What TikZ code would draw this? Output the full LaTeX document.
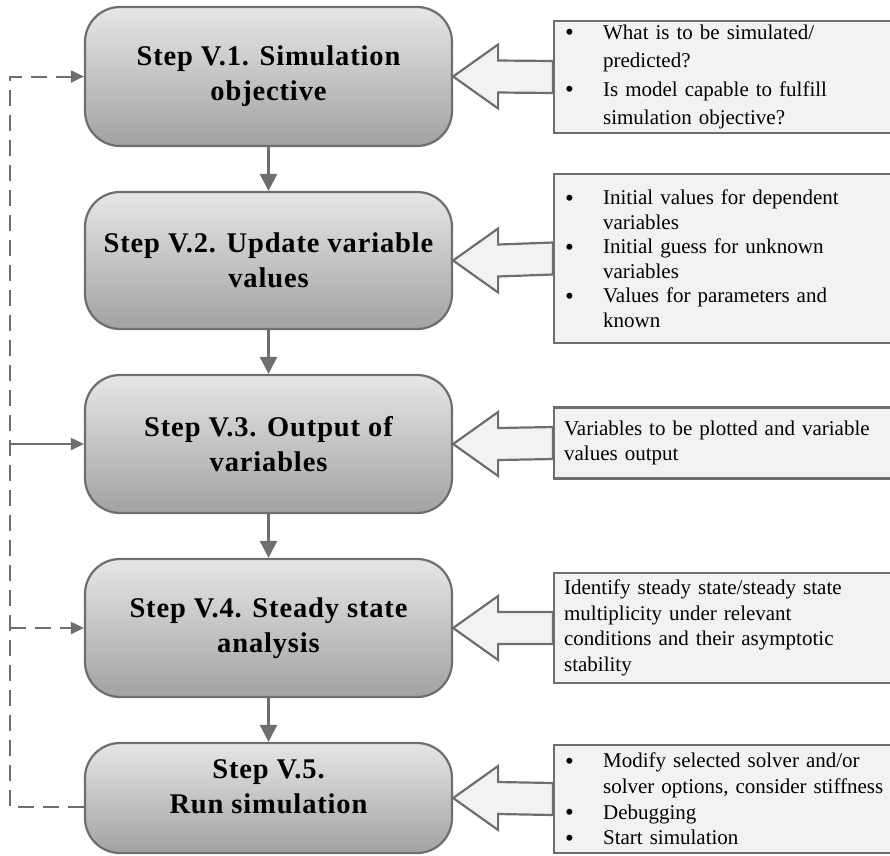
\documentclass[tikz,border=0pt]{standalone}
\usepackage{fontspec}
\setmainfont{Liberation Serif}
\newfontfamily\titlefont[LetterSpace=3]{Liberation Serif}
\usetikzlibrary{arrows.meta,backgrounds}
\definecolor{edge}{HTML}{6E6E6E}
\definecolor{infofill}{HTML}{F2F2F2}
\definecolor{gtop}{HTML}{E6E6E6}
\definecolor{gbot}{HTML}{A2A2A2}
\newcommand\bigbul{\raisebox{-1.5pt}[0pt][0pt]{\fontsize{25}{25}\selectfont\textbullet}}
\newcommand\bitem[1]{\makebox[39pt][l]{\hspace{1pt}\bigbul}#1}
\newcommand\bcont[1]{\hspace*{39pt}#1}
\tikzset{
  stepbox/.style={draw=edge, line width=2.2pt, rounded corners=35pt, top color=gtop, bottom color=gbot,
    minimum width=367pt, inner sep=0pt},
  titletext/.style={align=center, inner sep=0pt, font=\titlefont\bfseries\fontsize{28.5}{35}\selectfont},
  infobox/.style={draw=edge, line width=2.2pt, fill=infofill, anchor=west, text width=360pt,
    inner xsep=10pt, inner ysep=0pt, align=left, minimum width=380pt},
  infofont/.style={font=\fontsize{21}{#1}\selectfont},
  blockarrow/.style={draw=edge, line width=2.2pt, fill=infofill, line join=miter},
  flow/.style={draw=edge, line width=2.6pt, -{Triangle[length=17pt,width=17pt]}},
  fb/.style={draw=edge, line width=2pt, dash pattern=on 16pt off 9pt, -{Triangle[length=13pt,width=12pt]}},
  fbsolid/.style={draw=edge, line width=2pt, -{Triangle[length=13pt,width=12pt]}},
}
\begin{document}
\begin{tikzpicture}[x=1pt,y=-1pt]
\useasboundingbox (0,0) rectangle (890,855);
\clip (0,0) rectangle (890,855);
% main steps
\node[stepbox, minimum height=139pt] (s1) at (268.5,76.5) {};
\node[titletext] (t1) at (s1.center) {Step V.1. Simulation\\objective};
\node[stepbox, minimum height=137pt] (s2) at (268.5,260.5) {};
\node[titletext] (t2) at (s2.center) {Step V.2. Update variable\\values};
\node[stepbox, minimum height=138pt] (s3) at (268.5,444) {};
\node[titletext] (t3) at (s3.center) {Step V.3. Output of\\variables};
\node[stepbox, minimum height=138pt] (s4) at (268.5,628) {};
\node[titletext] (t4) at (s4.center) {Step V.4. Steady state\\analysis};
\node[stepbox, minimum height=110pt] (s5) at (268.5,798) {};
\node[titletext] (t5) at ([yshift=11pt]s5.center) {Step V.5.\\Run simulation};
% flow arrows
\draw[flow] (s1.south) -- (s2.north);
\draw[flow] (s2.south) -- (s3.north);
\draw[flow] (s3.south) -- (s4.north);
\draw[flow] (s4.south) -- (s5.north);
% feedback
\coordinate (rail) at (10,0);
\draw[fb] ([yshift=-9pt]s5.west) -| (rail |- s1.west) -- (s1.west);
\draw[fb] (rail |- s4.west) -- (s4.west);
\draw[fbsolid] (rail |- s3.west) -- (s3.west);
% info boxes
\node[infobox, minimum height=112pt, infofont=28.5] (i1) at (553,77) {%
\bitem{What is to be simulated/}\\\bcont{predicted?}\\\bitem{Is model capable to fulfill}\\\bcont{simulation objective?}};
\node[infobox, minimum height=169pt, infofont=24.5] (i2) at (553,258.5) {%
\bitem{Initial values for dependent}\\\bcont{variables}\\\bitem{Initial guess for unknown}\\\bcont{variables}\\\bitem{Values for parameters and}\\\bcont{known}};
\node[infobox, minimum height=71pt, infofont=25] (i3) at (553,443) {%
Variables to be plotted and variable\\values output};
\node[infobox, minimum height=110pt, infofont=25.7] (i4) at (553,628) {%
Identify steady state/steady state\\multiplicity under relevant\\conditions and their asymptotic\\stability};
\node[infobox, minimum height=108pt, infofont=25.6] (i5) at (553,799) {%
\bitem{Modify selected solver and/or}\\\bcont{solver options, consider stiffness}\\\bitem{Debugging}\\\bitem{Start simulation}};
% block arrows
\begin{scope}[on background layer]
\foreach \s/\i in {s1/i1,s2/i2,s3/i3,s4/i4,s5/i5}{
  \path[blockarrow] (\s.east) -- ++(45,-32) -- ++(0,16) -- ([yshift=16pt]\i.west) -- ([yshift=-16pt]\i.west)
    -- ([xshift=45pt,yshift=-16pt]\s.east) -- ++(0,16) -- cycle;
}
\end{scope}
\end{tikzpicture}
\end{document}
